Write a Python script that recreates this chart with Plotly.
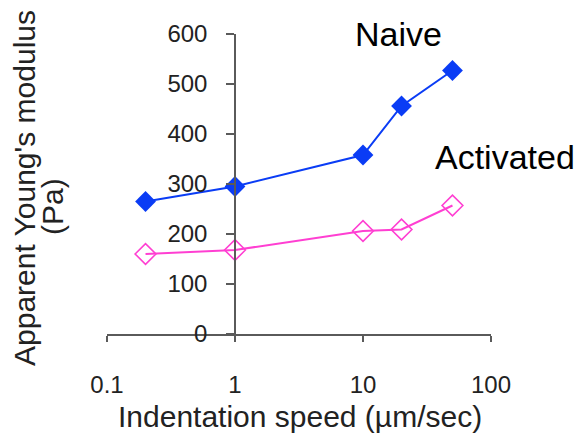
import plotly.graph_objects as go

# Indentation speeds (µm/sec) and apparent Young's modulus (Pa)
speed = [0.2, 1, 10, 20, 50]
naive = [265, 295, 358, 456, 527]
activated = [160, 168, 206, 209, 257]

x_tickvals = [0.1, 1, 10, 100]
x_ticktext = ["0.1", "1", "10", "100"]
y_tickvals = [0, 100, 200, 300, 400, 500, 600]

FONT = "Liberation Sans, Arial, sans-serif"
AXIS_COLOR = "#5a5a5a"

W, H = 581, 435
ML, MR, MT, MB = 107, 90, 34, 101
PW, PH = W - ML - MR, H - MT - MB


def px(xp):
    return (xp - ML) / PW


def py(yp):
    return (H - MB - yp) / PH


fig = go.Figure()

fig.add_trace(go.Scatter(
    x=speed, y=naive, mode="lines+markers", name="Naive",
    line=dict(color="#0a3cf5", width=2),
    marker=dict(symbol="diamond", size=16, color="#0a3cf5",
                line=dict(width=0)),
))

fig.add_trace(go.Scatter(
    x=speed, y=activated, mode="lines+markers", name="Activated",
    line=dict(color="#ff3fd2", width=2),
    marker=dict(symbol="diamond-open", size=16, color="#ff3fd2",
                line=dict(width=1.6)),
))

annotations = [
    dict(text="Naive", x=px(398), y=py(34), xref="paper", yref="paper",
         showarrow=False, xanchor="center", yanchor="middle",
         font=dict(size=34, color="black", family=FONT)),
    dict(text="Activated", x=px(505), y=py(157), xref="paper", yref="paper",
         showarrow=False, xanchor="center", yanchor="middle",
         font=dict(size=34, color="black", family=FONT)),
    dict(text="Apparent Young's modulus", x=px(24), y=py(188),
         xref="paper", yref="paper", showarrow=False, textangle=-90,
         xanchor="center", yanchor="middle",
         font=dict(size=30, color="#222222", family=FONT)),
    dict(text="(Pa)", x=px(52), y=py(207),
         xref="paper", yref="paper", showarrow=False, textangle=-90,
         xanchor="center", yanchor="middle",
         font=dict(size=30, color="#222222", family=FONT)),
    dict(text="Indentation speed (µm/sec)", x=px(300), y=py(416),
         xref="paper", yref="paper", showarrow=False,
         xanchor="center", yanchor="middle",
         font=dict(size=30, color="#222222", family=FONT)),
]

fig.update_layout(
    width=W, height=H,
    margin=dict(l=ML, r=MR, t=MT, b=MB),
    paper_bgcolor="white", plot_bgcolor="white",
    showlegend=False,
    font=dict(family=FONT, color="#222222"),
    annotations=annotations,
    xaxis=dict(
        type="log", range=[-1, 2],
        tickmode="array", tickvals=x_tickvals, ticktext=x_ticktext,
        ticks="outside", ticklen=6, tickwidth=1.5, tickcolor=AXIS_COLOR,
        showline=True, linecolor=AXIS_COLOR, linewidth=1.5,
        showgrid=False, zeroline=False,
        tickfont=dict(size=24, color="#222222", family=FONT),
        ticklabelstandoff=22,
    ),
    yaxis=dict(
        range=[0, 600], anchor="free", position=1 / 3,
        tickmode="array", tickvals=y_tickvals,
        ticks="outside", ticklen=8, tickwidth=1.5, tickcolor=AXIS_COLOR,
        showline=True, linecolor=AXIS_COLOR, linewidth=1.5,
        showgrid=False, zeroline=False,
        tickfont=dict(size=24, color="#222222", family=FONT),
        ticklabelstandoff=14,
    ),
)

fig.write_html("out.html")
